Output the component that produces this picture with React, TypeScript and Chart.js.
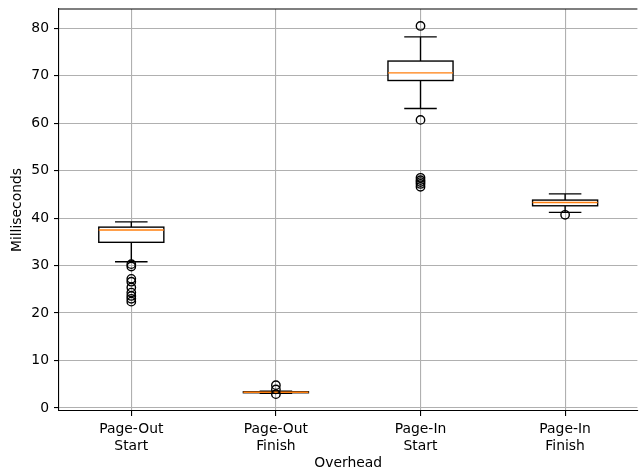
import React, { useEffect, useRef } from "react";
import { Chart, registerables } from "chart.js";
Chart.register(...registerables);

const categories = [["Page-Out", "Start"], ["Page-Out", "Finish"], ["Page-In", "Start"], ["Page-In", "Finish"]];
const positions = [1, 2, 3, 4];
const whiskerLow = [30.8, 3.1, 63.1, 41.2];
const q1 = [34.9, 3.2, 69.0, 42.6];
const median = [37.5, 3.3, 70.6, 43.3];
const q3 = [38.1, 3.4, 73.1, 43.8];
const whiskerHigh = [39.2, 3.5, 78.2, 45.1];
const outliersPageOutStart = [30.3, 29.8, 27.2, 26.6, 25.4, 24.3, 23.6, 23.0, 22.4];
const outliersPageOutFinish = [4.8, 3.9, 2.9];
const outliersPageInStart = [80.5, 60.7, 48.5, 48.0, 47.6, 47.2, 46.6];
const outliersPageInFinish = [40.7];
const yTicks = [0, 10, 20, 30, 40, 50, 60, 70, 80];
const yMin = -0.65;
const yMax = 84.07;

const FONT = "'DejaVu Sans', sans-serif";
const FS = 13.9;
const LW = 1.39;
const BOX_HALF = 0.225;
const CAP_HALF = 0.1125;

const boxPlugin = {
  id: "boxes",
  beforeDatasetsDraw(chart: any) {
    const { ctx, scales } = chart;
    const x = scales.x;
    const y = scales.y;
    ctx.save();
    positions.forEach((p, i) => {
      const cx = x.getPixelForValue(p);
      const hw = x.getPixelForValue(p + BOX_HALF) - cx;
      const cw = x.getPixelForValue(p + CAP_HALF) - cx;
      const yLo = y.getPixelForValue(whiskerLow[i]);
      const yQ1 = y.getPixelForValue(q1[i]);
      const yMed = y.getPixelForValue(median[i]);
      const yQ3 = y.getPixelForValue(q3[i]);
      const yHi = y.getPixelForValue(whiskerHigh[i]);
      ctx.lineWidth = LW;
      ctx.strokeStyle = "#000";
      ctx.beginPath();
      ctx.moveTo(cx, yQ1);
      ctx.lineTo(cx, yLo);
      ctx.moveTo(cx, yQ3);
      ctx.lineTo(cx, yHi);
      ctx.moveTo(cx - cw, yLo);
      ctx.lineTo(cx + cw, yLo);
      ctx.moveTo(cx - cw, yHi);
      ctx.lineTo(cx + cw, yHi);
      ctx.stroke();
      ctx.fillStyle = "#fff";
      ctx.fillRect(cx - hw, yQ3, 2 * hw, yQ1 - yQ3);
      ctx.strokeRect(cx - hw, yQ3, 2 * hw, yQ1 - yQ3);
      ctx.strokeStyle = "#ff7f0e";
      ctx.beginPath();
      ctx.moveTo(cx - hw, yMed);
      ctx.lineTo(cx + hw, yMed);
      ctx.stroke();
    });
    ctx.restore();
  },
  afterDraw(chart: any) {
    const { ctx, chartArea } = chart;
    ctx.save();
    ctx.strokeStyle = "#000";
    ctx.lineWidth = 1.1;
    ctx.beginPath();
    ctx.moveTo(chartArea.left, chartArea.top);
    ctx.lineTo(chartArea.right, chartArea.top);
    ctx.stroke();
    ctx.restore();
  },
};

const outlierSets = [outliersPageOutStart, outliersPageOutFinish, outliersPageInStart, outliersPageInFinish];

export default function App() {
  const ref = useRef<HTMLCanvasElement>(null);
  useEffect(() => {
    document.body.style.margin = "0";
    const canvas = ref.current!;
    const chart = new Chart(canvas, {
      type: "scatter",
      data: {
        datasets: outlierSets.map((vals, i) => ({
          label: categories[i].join(" "),
          data: vals.map((v) => ({ x: positions[i], y: v })),
          pointStyle: "circle",
          pointRadius: 4.2,
          pointBorderWidth: LW,
          borderColor: "#000",
          backgroundColor: "rgba(0,0,0,0)",
        })),
      },
      options: {
        responsive: false,
        animation: false,
        layout: { padding: { top: 9, right: 0, left: 0, bottom: 0 } },
        plugins: { legend: { display: false }, tooltip: { enabled: false } },
        scales: {
          x: {
            type: "linear",
            min: 0.5,
            max: 4.5,
            afterBuildTicks: (s: any) => {
              s.ticks = positions.map((v) => ({ value: v }));
            },
            afterFit: (s: any) => {
              s.height = 61;
              s.paddingLeft = 0;
              s.paddingRight = 0;
            },
            ticks: {
              color: "#000",
              font: { family: FONT, size: FS },
              padding: 5,
              maxRotation: 0,
              autoSkip: false,
              callback: (v: any) => categories[positions.indexOf(Number(v))] ?? "",
            },
            grid: { color: "#b0b0b0", lineWidth: 1.1, tickColor: "#000", tickLength: 5, drawTicks: true },
            border: { display: true, color: "#000", width: 1.1 },
            title: {
              display: true,
              text: "Overhead",
              color: "#000",
              font: { family: FONT, size: FS },
              padding: { top: 0, bottom: 0 },
            },
          },
          y: {
            type: "linear",
            min: yMin,
            max: yMax,
            afterBuildTicks: (s: any) => {
              s.ticks = yTicks.map((v) => ({ value: v }));
            },
            afterFit: (s: any) => {
              s.width = 59;
              s.paddingTop = 0;
              s.paddingBottom = 0;
            },
            ticks: {
              color: "#000",
              font: { family: FONT, size: FS },
              padding: 5,
            },
            grid: { color: "#b0b0b0", lineWidth: 1.1, tickColor: "#000", tickLength: 5, drawTicks: true },
            border: { display: true, color: "#000", width: 1.1 },
            title: {
              display: true,
              text: "Milliseconds",
              color: "#000",
              font: { family: FONT, size: FS },
              padding: { top: 9, bottom: 0 },
            },
          },
        },
      },
      plugins: [boxPlugin],
    });
    return () => chart.destroy();
  }, []);
  return <canvas ref={ref} width={643} height={472} style={{ display: "block" }} />;
}
